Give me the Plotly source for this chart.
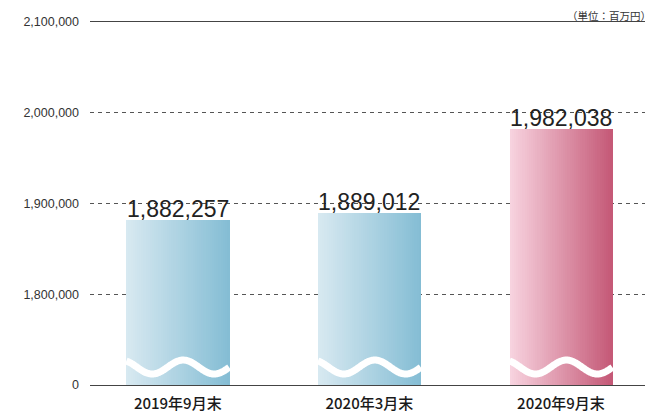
import plotly.graph_objects as go
import numpy as np

categories = ["2019年9月末", "2020年3月末", "2020年9月末"]
values = [1882257, 1889012, 1982038]
value_labels = ["1,882,257", "1,889,012", "1,982,038"]
tick_vals = [1700000, 1800000, 1900000, 2000000, 2100000]
tick_text = ["0", "1,800,000", "1,900,000", "2,000,000", "2,100,000"]
left_colors = ["#d8e9f1", "#d8e9f1", "#f8d4e0"]
right_colors = ["#84bdd4", "#84bdd4", "#c45876"]

Y0 = 1700000
W = 0.537
N = 48


def hex2rgb(h):
    h = h.lstrip("#")
    return [int(h[i:i + 2], 16) for i in (0, 2, 4)]


def mix(a, b, t):
    ra, rb = hex2rgb(a), hex2rgb(b)
    return "rgb(%d,%d,%d)" % tuple(round(ra[i] + (rb[i] - ra[i]) * t) for i in range(3))


xs = list(range(len(categories)))
fig = go.Figure()
for k in range(N):
    t = (k + 0.5) / N
    fig.add_trace(go.Bar(
        x=xs, y=[v - Y0 for v in values], base=Y0,
        width=W / N * 1.15, offset=-W / 2 + k * W / N,
        marker=dict(color=[mix(left_colors[i], right_colors[i], t) for i in xs], line=dict(width=0)),
        hoverinfo="skip", showlegend=False,
    ))

# decorative wave (axis-break mark) inside each bar
for i in xs:
    wx = np.linspace(i - W / 2, i + W / 2, 160)
    wy = 1719800 - 7700 * np.sin(2 * np.pi * (wx - (i - W / 2) - 0.0547) / 0.323)
    fig.add_trace(go.Scatter(x=wx, y=wy, mode="lines", line=dict(color="white", width=7, shape="spline"),
                             hoverinfo="skip", showlegend=False))

for i in xs:
    fig.add_annotation(x=i, y=values[i], text=value_labels[i], showarrow=False,
                       yanchor="bottom", yshift=-4,
                       font=dict(family="Liberation Sans, Arial", size=23, color="#222"))

fig.add_annotation(xref="paper", yref="paper", x=1, y=1, xanchor="right", yanchor="bottom",
                   yshift=-2, borderpad=0, text="（単位：百万円）", showarrow=False,
                   font=dict(family="Noto Sans CJK JP", size=10.5, color="#333"))

fig.update_layout(
    width=645, height=406,
    margin=dict(l=82, r=1, t=14, b=21),
    paper_bgcolor="white", plot_bgcolor="white",
    bargap=0, barmode="overlay",
    xaxis=dict(range=[-0.458, 2.475], tickvals=xs, ticktext=categories,
               showgrid=False, showline=True, mirror=True, linecolor="#444", linewidth=1,
               ticks="", zeroline=False, ticklabelstandoff=5,
               tickfont=dict(family="Noto Sans CJK JP", size=15, color="#1a1a1a", weight=500)),
    yaxis=dict(range=[Y0, 2100000], tickvals=tick_vals, ticktext=tick_text,
               showgrid=True, gridcolor="#555", gridwidth=1, griddash="4px,4px",
               zeroline=False, showline=False, ticks="", ticklabelstandoff=10,
               tickfont=dict(family="Liberation Sans, Arial", size=12.5, color="#333")),
)

fig.write_html("out.html")
